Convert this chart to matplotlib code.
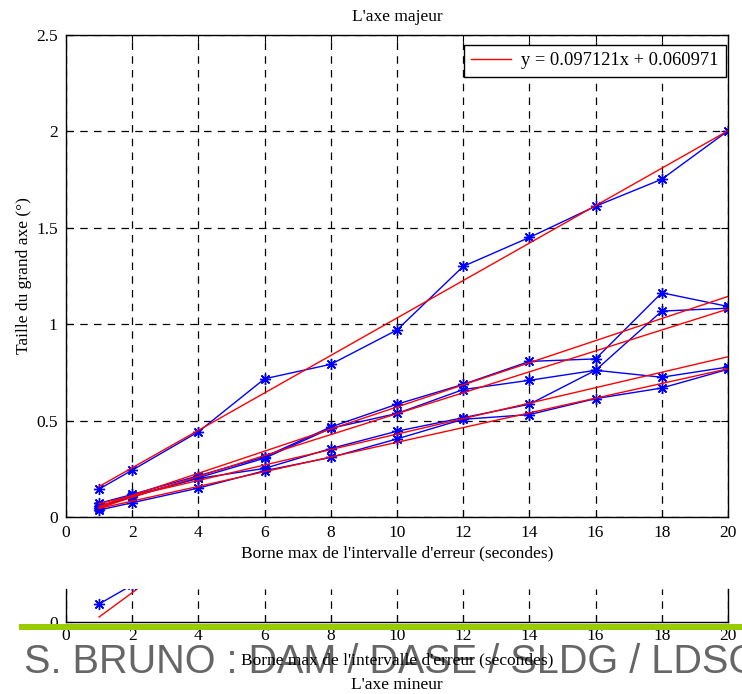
import numpy as np
import matplotlib
matplotlib.use("Agg")
import matplotlib.pyplot as plt
from matplotlib.patches import Rectangle
from matplotlib.lines import Line2D

# Borne max de l'intervalle d'erreur (s)
bornes = [1, 2, 4, 6, 8, 10, 12, 14, 16, 18, 20]

# Taille du grand axe (deg) pour chaque configuration
serie_a = [0.145, 0.243, 0.442, 0.717, 0.792, 0.970, 1.300, 1.450, 1.612, 1.752, 2.003]
serie_b = [0.071, 0.117, 0.214, 0.312, 0.467, 0.585, 0.688, 0.807, 0.820, 1.163, 1.092]
serie_c = [0.057, 0.105, 0.204, 0.305, 0.460, 0.537, 0.661, 0.709, 0.761, 1.068, 1.083]
serie_d = [0.045, 0.110, 0.200, 0.252, 0.355, 0.445, 0.515, 0.585, 0.761, 0.725, 0.778]
serie_e = [0.036, 0.074, 0.150, 0.240, 0.309, 0.405, 0.507, 0.531, 0.614, 0.669, 0.766]

# Droite de regression affichee en legende
pente_a = 0.097121
ordonnee_a = 0.060971

# Axe mineur (seul le debut est visible)
bornes_mineur = [1, 2]
serie_mineur = [0.045, 0.0925]
pente_mineur = 0.0608
ordonnee_mineur = -0.0483

xticks = [0, 2, 4, 6, 8, 10, 12, 14, 16, 18, 20]
yticks = [0, 0.5, 1, 1.5, 2, 2.5]
ytick_labels = ["0", "0.5", "1", "1.5", "2", "2.5"]

W, H = 742, 694
fig = plt.figure(figsize=(W / 100, H / 100), dpi=100)
serif = "Liberation Serif"
fs = 12.5

def rect(l, t, r, b):
    return [l / W, 1 - b / H, (r - l) / W, (b - t) / H]

blue = "#0000ff"
red = "#ff0000"
mk = dict(marker=(8, 2, 0), markersize=8, markeredgewidth=1.0)
grid_kw = dict(color="black", linestyle=(0, (6, 5)), linewidth=0.9)


def style_axis(ax):
    ax.tick_params(direction="in", top=True, right=True, length=5, width=0.8,
                   labelsize=fs, pad=6)
    for lab in ax.get_xticklabels() + ax.get_yticklabels():
        lab.set_fontfamily(serif)
    for s in ax.spines.values():
        s.set_linewidth(1.0)


# ---- Axe majeur ----
ax = fig.add_axes(rect(66, 35, 728, 517))
xs = np.array(bornes, dtype=float)
for serie in (serie_a, serie_b, serie_c, serie_d, serie_e):
    ax.plot(bornes, serie, color=blue, linewidth=1.0, **mk)
ax.plot(xs, pente_a * xs + ordonnee_a, color=red, linewidth=1.0)
for serie in (serie_b, serie_c, serie_d, serie_e):
    p, o = np.polyfit(xs, serie, 1)
    ax.plot(xs, p * xs + o, color=red, linewidth=1.0)

ax.set_xlim(0, 20)
ax.set_ylim(0, 2.5)
ax.set_xticks(xticks)
ax.set_yticks(yticks)
ax.set_yticklabels(ytick_labels)
ax.grid(True, **grid_kw)
style_axis(ax)
ax.set_title("L'axe majeur", fontfamily=serif, fontsize=fs, pad=10)
ax.set_xlabel("Borne max de l'intervalle d'erreur (secondes)", fontfamily=serif,
              fontsize=fs, labelpad=3)
ax.set_ylabel("Taille du grand axe (°)", fontfamily=serif, fontsize=fs, labelpad=3)

handle = Line2D([], [], color=red, linewidth=1.0)
leg = ax.legend([handle], ["y = 0.097121x + 0.060971"], loc="upper right",
                bbox_to_anchor=(726 / W, 1 - 45 / H),
                bbox_transform=fig.transFigure,
                prop={"family": serif, "size": 13.3}, fancybox=False, framealpha=1,
                edgecolor="black", borderaxespad=0, handlelength=2.15,
                handletextpad=0.55, borderpad=0.4)
leg.get_frame().set_linewidth(1.0)

# ---- Axe mineur (bande visible) ----
ax2 = fig.add_axes(rect(66, 589, 728, 622))
xm = np.array(bornes, dtype=float)
ax2.plot(xm, pente_mineur * xm + ordonnee_mineur, color=red, linewidth=1.0)
ax2.plot(bornes_mineur, serie_mineur, color=blue, linewidth=1.0, **mk)
ax2.set_xlim(0, 20)
ax2.set_ylim(0, 0.0825)
ax2.set_xticks(xticks)
ax2.set_yticks([0])
ax2.set_yticklabels(["0"])
ax2.grid(True, axis="x", **grid_kw)
style_axis(ax2)
ax2.tick_params(axis="x", top=False, pad=4)
ax2.spines["top"].set_visible(False)

# Bandeau vert et signature
fig.patches.append(Rectangle((19 / W, 1 - 630 / H), (W - 19) / W, 6.5 / H,
                             transform=fig.transFigure, facecolor="#99cc00",
                             edgecolor="none", zorder=5))
fig.text(24 / W, 1 - 673 / H, "S. BRUNO : DAM / DASE / SLDG / LDSG",
         fontfamily="Liberation Sans", fontsize=28.5, color="#666666",
         ha="left", va="baseline", zorder=-1)
fig.text(397 / W, 1 - 660 / H, "Borne max de l'intervalle d'erreur (secondes)",
         fontfamily=serif, fontsize=fs, ha="center", va="center", zorder=6)
fig.text(397 / W, 1 - 685 / H, "L'axe mineur", fontfamily=serif, fontsize=fs,
         ha="center", va="center", zorder=6)

fig.savefig("out.png", dpi=100)
